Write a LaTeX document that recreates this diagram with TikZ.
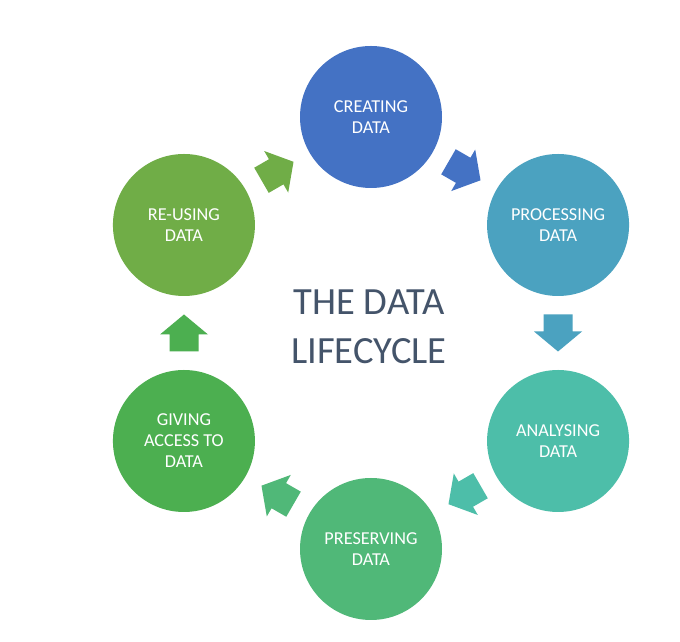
\documentclass[tikz,border=0pt]{standalone}
\usepackage{fontspec}
\setmainfont{Carlito}
\usetikzlibrary{calc}
\definecolor{cCreate}{HTML}{4472C4}
\definecolor{cProc}{HTML}{4BA2C0}
\definecolor{cAnal}{HTML}{4DBEA9}
\definecolor{cPres}{HTML}{50B878}
\definecolor{cGive}{HTML}{4CAF50}
\definecolor{cReuse}{HTML}{70AD47}
\definecolor{cTitle}{HTML}{44546A}
\newcommand\blockarrow[3]{%
  \fill[#3, shift={(#1)}, rotate=#2]
    (-18.5,14.5) -- (-1.5,14.5) -- (-1.5,24) -- (18.5,0) -- (-1.5,-24) -- (-1.5,-14.5) -- (-18.5,-14.5) -- cycle;}
\begin{document}
\begin{tikzpicture}[x=1pt,y=1pt,
  stage/.style={circle, minimum size=142pt, inner sep=0pt, text=white, align=center,
    font=\fontsize{18.2}{21}\selectfont},
  title/.style={text=cTitle, align=center, font=\fontsize{38.5}{49}\selectfont}]
\fill[white] (0,0) rectangle (680,642);
\useasboundingbox (0,0) rectangle (680,642);
\coordinate (O) at (371,309);
\node[stage, fill=cCreate] (create) at ($(O)+(90:216)$) {CREATING\\DATA};
\node[stage, fill=cProc] (proc) at ($(O)+(30:216)$) {PROCESSING\\DATA};
\node[stage, fill=cAnal] (anal) at ($(O)+(-30:216)$) {ANALYSING\\DATA};
\node[stage, fill=cPres] (pres) at ($(O)+(-90:216)$) {PRESERVING\\DATA};
\node[stage, fill=cGive] (give) at ($(O)+(210:216)$) {GIVING\\ACCESS TO\\DATA};
\node[stage, fill=cReuse] (reuse) at ($(O)+(150:216)$) {RE-USING\\DATA};
\node[title] (title) at (369,315) {THE DATA\\LIFECYCLE};
\coordinate (a1) at ($(O)+(60:187)$);
\coordinate (a2) at ($(O)+(0:187)$);
\coordinate (a3) at ($(O)+(-60:187)$);
\coordinate (a4) at ($(O)+(-120:187)$);
\coordinate (a5) at ($(O)+(180:187)$);
\coordinate (a6) at ($(O)+(120:187)$);
\blockarrow{a1}{-30}{cCreate}
\blockarrow{a2}{-90}{cProc}
\blockarrow{a3}{-150}{cAnal}
\blockarrow{a4}{150}{cPres}
\blockarrow{a5}{90}{cGive}
\blockarrow{a6}{30}{cReuse}
\end{tikzpicture}
\end{document}
